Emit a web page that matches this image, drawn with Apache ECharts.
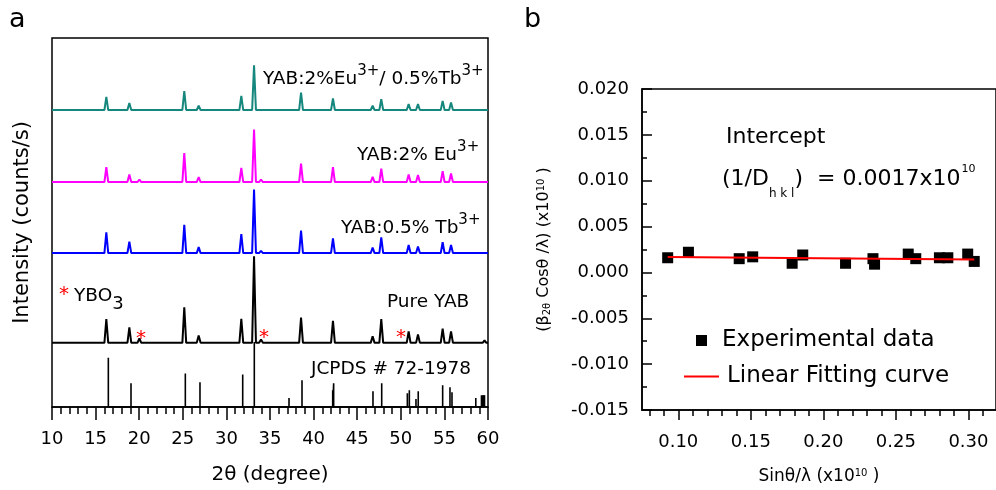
<!DOCTYPE html>
<html><head><meta charset="utf-8">
<script src="https://cdn.jsdelivr.net/npm/echarts@6/dist/echarts.min.js"></script>
<style>html,body{margin:0;padding:0;background:#fff}#c{width:996px;height:490px}</style>
</head><body><div id="c"></div>
<script>
// ---------- Panel a data (2θ in degrees, intensity in arbitrary units) ----------
const stickPos = [16.46, 19.06, 25.29, 26.97, 31.87, 33.20, 37.18, 38.67, 42.19, 42.30, 46.81, 47.81, 50.75, 50.98, 51.74, 52.00, 54.80, 55.64, 55.87, 58.60, 59.25, 59.45, 59.60];
const stickInt = [50, 24, 34, 25, 33, 66, 9, 27, 17, 24, 16, 24, 14, 17, 8, 16, 22, 20, 15, 9, 12, 12, 12];

const peakPos   = [16.23, 18.87, 20.02, 25.17, 26.82, 31.71, 33.17, 33.97, 37.20, 38.56, 42.22, 46.77, 47.76, 49.94, 50.90, 51.97, 54.80, 55.76, 59.60];
const pureInt   = [24, 15.7, 4.4, 36, 7.4, 24.4, 87.7, 3.4, 1, 25.7, 22.4, 6.7, 24, 1.7, 11.7, 8.4, 14.4, 11.7, 2.4];
const tbInt     = [21, 11.7, 2, 28.7, 6, 19.3, 64.3, 2.3, 0.5, 22.7, 15, 5.7, 16, 1, 8.3, 6.7, 11, 8.3, 1.7];
const euInt     = [15, 7.7, 2.6, 29.3, 5, 14.3, 53.3, 2.6, 0.5, 18.6, 15, 5.3, 13.6, 1, 7.7, 7, 11, 8.6, 2];
const euTbInt   = [13.3, 7, 1.7, 19.3, 4.3, 14.3, 45.3, 2, 0.5, 17.7, 11.7, 4.3, 11, 1, 6, 6, 9.3, 7.7, 2];
const traceOffsets = { pure: 65, tb: 156, eu: 228, eutb: 301 };
const xRangeA = [10, 60];

// ---------- Panel b data ----------
const bX = [0.0927, 0.107, 0.142, 0.1513, 0.1785, 0.1858, 0.2153, 0.2342, 0.2353, 0.2585, 0.2637, 0.280, 0.2858, 0.2995, 0.304];
const bY = [0.0016, 0.0022, 0.0015, 0.0017, 0.0010, 0.0019, 0.0010, 0.0015, 0.0009, 0.0020, 0.0015, 0.0016, 0.0016, 0.0020, 0.0012];
const fitX = [0.0927, 0.304];
const fitY = [0.00168, 0.00142];
const bMajorTicks = [0.10, 0.15, 0.20, 0.25, 0.30];
const bMinorTicks = [0.08, 0.09, 0.11, 0.12, 0.13, 0.14, 0.16, 0.17, 0.18, 0.19, 0.21, 0.22, 0.23, 0.24, 0.26, 0.27, 0.28, 0.29, 0.31];

const FONT = 'DejaVu Sans';
const HW = 0.22; // drawn half-width of a peak (degrees)

function profile(pos, hts, off) {
  const d = [[xRangeA[0], off]];
  pos.forEach((p, i) => { d.push([p - HW, off], [p, off + hts[i]], [p + HW, off]); });
  d.push([xRangeA[1], off]);
  return d;
}
function sticks(pos, hts) {
  const d = [];
  pos.forEach((p, i) => { d.push([p, 0], [p, hts[i]], [p, 0]); });
  return d;
}

const axisLine = { lineStyle: { color: '#000', width: 1.5 } };
const tickStyle = { color: '#000', width: 1.5 };

const chart = echarts.init(document.getElementById('c'), null, { renderer: 'canvas' });
const option = {
  animation: false,
  backgroundColor: '#fff',
  textStyle: { fontFamily: FONT },
  grid: [
    { left: 52, top: 38, width: 436, height: 374, show: true, borderColor: '#000', borderWidth: 1.5, backgroundColor: 'transparent' },
    { left: 642, top: 89, width: 359, height: 323, show: true, borderColor: '#000', borderWidth: 1.5, backgroundColor: 'transparent' }
  ],
  xAxis: [
    { gridIndex: 0, type: 'value', min: 10, max: 60, interval: 5, position: 'bottom',
      axisLine: { onZero: false, ...axisLine },
      axisTick: { length: 13, lineStyle: tickStyle },
      minorTick: { show: true, splitNumber: 5, length: 7, lineStyle: tickStyle },
      axisLabel: { color: '#000', fontSize: 18, fontFamily: FONT, margin: 23 },
      splitLine: { show: false },
      name: '2θ (degree)', nameLocation: 'middle', nameGap: 58,
      nameTextStyle: { color: '#000', fontSize: 20, fontFamily: FONT } },
    { gridIndex: 1, type: 'value', min: 0.075, max: 0.319, position: 'bottom',
      axisLine: { onZero: false, ...axisLine },
      axisTick: { customValues: bMajorTicks, length: 10, lineStyle: tickStyle },
      axisLabel: { customValues: bMajorTicks, color: '#000', fontSize: 18, fontFamily: FONT, margin: 23,
                   formatter: v => v.toFixed(2) },
      splitLine: { show: false },
      name: 'Sinθ/λ (x10{sup|10} )', nameLocation: 'middle', nameGap: 58,
      nameTextStyle: { color: '#000', fontSize: 17, fontFamily: FONT,
        rich: { sup: { fontSize: 10, fontFamily: FONT, color: '#000', verticalAlign: 'top', lineHeight: 10 } } } },
    { gridIndex: 1, type: 'value', min: 0.075, max: 0.319, position: 'bottom',
      axisLine: { show: false, onZero: false },
      axisTick: { customValues: bMinorTicks, length: 6, lineStyle: tickStyle },
      axisLabel: { show: false }, splitLine: { show: false } }
  ],
  yAxis: [
    { gridIndex: 0, type: 'value', min: 0, max: 374,
      axisLine: { show: false }, axisTick: { show: false }, axisLabel: { show: false }, splitLine: { show: false },
      name: 'Intensity (counts/s)', nameLocation: 'middle', nameGap: 19, nameRotate: 90,
      nameTextStyle: { color: '#000', fontSize: 21, fontFamily: FONT } },
    { gridIndex: 1, type: 'value', min: -0.015, max: 0.020, interval: 0.005,
      axisLine: { onZero: false, ...axisLine },
      axisTick: { inside: true, length: 10, lineStyle: tickStyle },
      minorTick: { show: true, splitNumber: 2, length: 5, lineStyle: tickStyle },
      axisLabel: { color: '#000', fontSize: 18, fontFamily: FONT, margin: 13,
                   formatter: v => (Math.abs(v) < 1e-9 ? '0.000' : v.toFixed(3)) },
      splitLine: { show: false },
      name: '(β{sub|2θ} Cosθ /λ) (x10{sup|10} )', nameLocation: 'middle', nameGap: 90, nameRotate: 90,
      nameTextStyle: { color: '#000', fontSize: 16, fontFamily: FONT,
        rich: { sup: { fontSize: 10, fontFamily: FONT, color: '#000', verticalAlign: 'top', lineHeight: 10 },
                sub: { fontSize: 10, fontFamily: FONT, color: '#000', verticalAlign: 'bottom', lineHeight: 10 } } } }
  ],
  legend: [
    { data: [{ name: 'Experimental data', icon: 'rect' }], left: 691, top: 324, orient: 'vertical',
      itemWidth: 11, itemHeight: 11, selectedMode: false,
      textStyle: { color: '#000', fontSize: 23, fontFamily: FONT, padding: [0, 0, 0, 10] } },
    { data: [{ name: 'Linear Fitting curve', icon: 'rect' }], left: 679, top: 360, orient: 'vertical',
      itemWidth: 35, itemHeight: 2, selectedMode: false,
      textStyle: { color: '#000', fontSize: 23, fontFamily: FONT, padding: [0, 0, 0, 3] } }
  ],
  series: [
    { name: 'JCPDS', type: 'line', xAxisIndex: 0, yAxisIndex: 0, data: sticks(stickPos, stickInt),
      symbol: 'none', lineStyle: { color: '#000', width: 1.6 }, z: 2 },
    { name: 'Pure YAB', type: 'line', xAxisIndex: 0, yAxisIndex: 0, data: profile(peakPos, pureInt, traceOffsets.pure),
      symbol: 'none', lineStyle: { color: '#000', width: 2 }, z: 3 },
    { name: 'YAB:0.5% Tb', type: 'line', xAxisIndex: 0, yAxisIndex: 0, data: profile(peakPos, tbInt, traceOffsets.tb),
      symbol: 'none', lineStyle: { color: '#0000ff', width: 2 }, z: 3 },
    { name: 'YAB:2% Eu', type: 'line', xAxisIndex: 0, yAxisIndex: 0, data: profile(peakPos, euInt, traceOffsets.eu),
      symbol: 'none', lineStyle: { color: '#ff00ff', width: 2 }, z: 3 },
    { name: 'YAB:2%Eu/0.5%Tb', type: 'line', xAxisIndex: 0, yAxisIndex: 0, data: profile(peakPos, euTbInt, traceOffsets.eutb),
      symbol: 'none', lineStyle: { color: '#15877d', width: 2 }, z: 3 },
    { name: 'Experimental data', type: 'scatter', xAxisIndex: 1, yAxisIndex: 1,
      data: bX.map((x, i) => [x, bY[i]]), symbol: 'rect', symbolSize: 11,
      itemStyle: { color: '#000', opacity: 1 }, z: 3 },
    { name: 'Linear Fitting curve', type: 'line', xAxisIndex: 1, yAxisIndex: 1,
      data: fitX.map((x, i) => [x, fitY[i]]), symbol: 'none',
      lineStyle: { color: '#ff0000', width: 2 }, itemStyle: { color: '#ff0000' }, z: 4 }
  ],
  graphic: [
    { type: 'text', left: 9, top: 6, style: { text: 'a', fontSize: 27, fontFamily: FONT, fill: '#000' } },
    { type: 'text', left: 524, top: 6, style: { text: 'b', fontSize: 27, fontFamily: FONT, fill: '#000' } },
    { type: 'text', x: 263, y: 64, style: { text: '{m|YAB:2%Eu}{s|3+}{m|/ 0.5%Tb}{s|3+}', verticalAlign: 'top',
        rich: { m: { fontSize: 18.5, lineHeight: 30, fontFamily: FONT, fill: '#000' },
                s: { fontSize: 15, lineHeight: 15, verticalAlign: 'top', fontFamily: FONT, fill: '#000' } } } },
    { type: 'text', x: 357, y: 140, style: { text: '{m|YAB:2% Eu}{s|3+}', verticalAlign: 'top',
        rich: { m: { fontSize: 18.5, lineHeight: 30, fontFamily: FONT, fill: '#000' },
                s: { fontSize: 15, lineHeight: 15, verticalAlign: 'top', fontFamily: FONT, fill: '#000' } } } },
    { type: 'text', x: 341, y: 213, style: { text: '{m|YAB:0.5% Tb}{s|3+}', verticalAlign: 'top',
        rich: { m: { fontSize: 18.5, lineHeight: 30, fontFamily: FONT, fill: '#000' },
                s: { fontSize: 15, lineHeight: 15, verticalAlign: 'top', fontFamily: FONT, fill: '#000' } } } },
    { type: 'text', x: 387, y: 293, style: { text: 'Pure YAB', fontSize: 18.5, fontFamily: FONT, fill: '#000' } },
    { type: 'text', x: 59, y: 285, style: { text: '*', fontSize: 20, fontFamily: FONT, fill: '#ff0000' } },
    { type: 'text', x: 74, y: 287, style: { text: '{m|YBO}{b|3}', verticalAlign: 'top',
        rich: { m: { fontSize: 18.5, lineHeight: 26, verticalAlign: 'top', fontFamily: FONT, fill: '#000' },
                b: { fontSize: 18, lineHeight: 18, verticalAlign: 'bottom', fontFamily: FONT, fill: '#000' } } } },
    { type: 'text', x: 136, y: 329, style: { text: '*', fontSize: 20, fontFamily: FONT, fill: '#ff0000' } },
    { type: 'text', x: 259, y: 328, style: { text: '*', fontSize: 20, fontFamily: FONT, fill: '#ff0000' } },
    { type: 'text', x: 396, y: 328, style: { text: '*', fontSize: 20, fontFamily: FONT, fill: '#ff0000' } },
    { type: 'text', x: 311, y: 360, style: { text: 'JCPDS # 72-1978', fontSize: 18.5, fontFamily: FONT, fill: '#000' } },
    { type: 'text', x: 726, y: 126, style: { text: 'Intercept', fontSize: 22, fontFamily: FONT, fill: '#000' } },
    { type: 'text', x: 722, y: 158, style: { text: '{m|(1/D}{sub|h k l}{m|)  = 0.0017x10}{sup|10}', verticalAlign: 'top',
        rich: { m: { fontSize: 22, lineHeight: 42, fontFamily: FONT, fill: '#000' },
                sup: { fontSize: 11, lineHeight: 11, verticalAlign: 'top', padding: [6, 0, 0, 1], fontFamily: FONT, fill: '#000' },
                sub: { fontSize: 12, lineHeight: 12, verticalAlign: 'bottom', fontFamily: FONT, fill: '#000' } } } }
  ]
};
chart.setOption(option);
</script>
</body></html>
